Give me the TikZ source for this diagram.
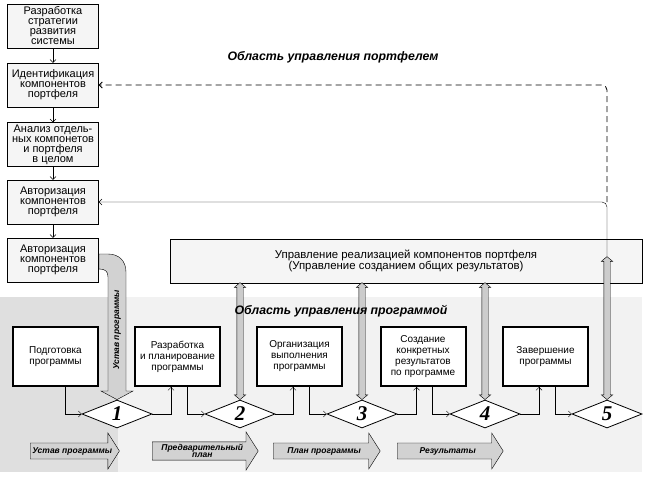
\documentclass[tikz,border=0pt]{standalone}
\usepackage{fontspec}
\setmainfont{Liberation Sans}
\newfontfamily\numfont{Liberation Serif}
\usetikzlibrary{shapes.geometric,shapes.arrows,arrows.meta,calc}

\tikzset{
  lbox/.style={draw, fill=gray!8, minimum width=91pt, minimum height=44pt, align=center, inner sep=1pt, font=\fontsize{11}{10}\selectfont},
  mbox/.style={draw, fill=gray!8, minimum width=472pt, minimum height=44pt, align=center, font=\fontsize{11.4}{10.5}\selectfont},
  pbox/.style={draw, line width=2pt, fill=white, minimum width=85pt, minimum height=59pt, align=center, font=\fontsize{10}{11}\selectfont},
  gate/.style={draw, thick, fill=white, diamond, aspect=2.5, inner sep=0pt, minimum width=70pt, minimum height=28pt, font=\numfont\bfseries\itshape\fontsize{21}{21}\selectfont},
  updn/.style={draw, fill=gray!40, double arrow, rotate=90, inner sep=3pt, double arrow head extend=2.5pt, double arrow tip angle=100},
  res/.style={draw, fill=gray!35, single arrow, single arrow head extend=10pt, single arrow tip angle=115, inner xsep=2pt, inner ysep=4pt, align=center, font=\fontsize{8.5}{7.5}\selectfont\bfseries\itshape},
  lnk/.style={-{Straight Barb[length=3pt,width=6pt]}},
  zone/.style={font=\fontsize{12.3}{12}\selectfont\bfseries\itshape}
}

\begin{document}
\begin{tikzpicture}[x=1pt, y=-1pt]
\useasboundingbox (0,0) rectangle (653,479);
% program area background
\fill[gray!10] (0,297) rectangle (642,472);
\fill[gray!25] (0,297) rectangle (118,472);

% portfolio steps
\node[lbox] (s1) at (53,26) {Разработка\\стратегии\\развития\\системы};
\node[lbox] (s2) at (53,85) {Идентификация\\компонентов\\портфеля};
\node[lbox] (s3) at (53,144.5) {Анализ отдель-\\ных компонетов\\и портфеля\\в целом};
\node[lbox] (s4) at (53,202) {Авторизация\\компонентов\\портфеля};
\node[lbox] (s5) at (53,260) {Авторизация\\компонентов\\портфеля};

\draw[lnk] (s1) -- (s2);
\draw[lnk] (s2) -- (s3);
\draw[lnk] (s3) -- (s4);
\draw[lnk] (s4) -- (s5);

\node[mbox] (m) at (406,261) {Управление реализацией компонентов портфеля\\(Управление созданием общих результатов)};

% program steps
\node[pbox] (p1) at (55.5,356.5) {Подготовка\\программы};
\node[pbox] (p2) at (177.5,356.5) {Разработка\\и планирование\\программы};
\node[pbox] (p3) at (299.5,356.5) {Организация\\выполнения\\программы};
\node[pbox] (p4) at (423,356.5) {Создание\\конкретных\\результатов\\по программе};
\node[pbox] (p5) at (545.5,356.5) {Завершение\\программы};

\node[gate] (g1) at (117,414) {1};
\node[gate] (g2) at (240,414) {2};
\node[gate] (g3) at (362,414) {3};
\node[gate] (g4) at (485,414) {4};
\node[gate] (g5) at (607,414) {5};

\draw[lnk] ([xshift=9.5pt]p1.south) |- (g1.west);
\draw[lnk] (g1.east) -| ([xshift=-6.5pt]p2.south);
\draw[lnk] ([xshift=9.5pt]p2.south) |- (g2.west);
\draw[lnk] (g2.east) -| ([xshift=-6.5pt]p3.south);
\draw[lnk] ([xshift=9.5pt]p3.south) |- (g3.west);
\draw[lnk] (g3.east) -| ([xshift=-6.5pt]p4.south);
\draw[lnk] ([xshift=9.5pt]p4.south) |- (g4.west);
\draw[lnk] (g4.east) -| ([xshift=-6.5pt]p5.south);
\draw[lnk] ([xshift=9.5pt]p5.south) |- (g5.west);

% links to the portfolio level
\node[updn, minimum height=117pt] (u2) at ($(g2.north)+(0,-58.5)$) {};
\node[updn, minimum height=117pt] (u3) at ($(g3.north)+(0,-58.5)$) {};
\node[updn, minimum height=117pt] (u4) at ($(g4.north)+(0,-58.5)$) {};
\node[updn, minimum height=143pt] (u5) at ($(g5.north)+(0,-71.5)$) {};
\coordinate (t5) at ($(g5.north)+(0,-143)$);
\draw[lnk, rounded corners=5pt] (t5) |- (s4.east);
\draw[lnk, thick, dash pattern=on 6pt off 4pt, rounded corners=5pt] (t5 |- s4.east) |- (s2.east);

% charter arrow
\draw[fill=gray!35] (99,254) -- (108,254) .. controls (119,254) and (126,261) .. (126,272)
  -- (126,391) -- (133,391) -- (g1.north) -- (101,391) -- (108,391) -- (108,277)
  .. controls (108,271) and (105,269) .. (99,269) -- cycle;
\node[rotate=90, font=\fontsize{8.5}{8.5}\selectfont\bfseries\itshape] (ust) at (117,330) {Устав программы};

% results
\node[res, minimum height=87pt, anchor=tail] (r1) at (30,451) {Устав программы};
\node[res, minimum height=106pt, anchor=tail, inner ysep=2pt] (r2) at (152,451) {Предварительный\\план};
\node[res, minimum height=107pt, anchor=tail] (r3) at (273,451) {План программы};
\node[res, minimum height=106pt, anchor=tail] (r4) at (397,451) {Результаты};

\node[zone] (z1) at (333,57) {Область управления портфелем};
\node[zone] (z2) at (341,311) {Область управления программой};
\end{tikzpicture}
\end{document}
